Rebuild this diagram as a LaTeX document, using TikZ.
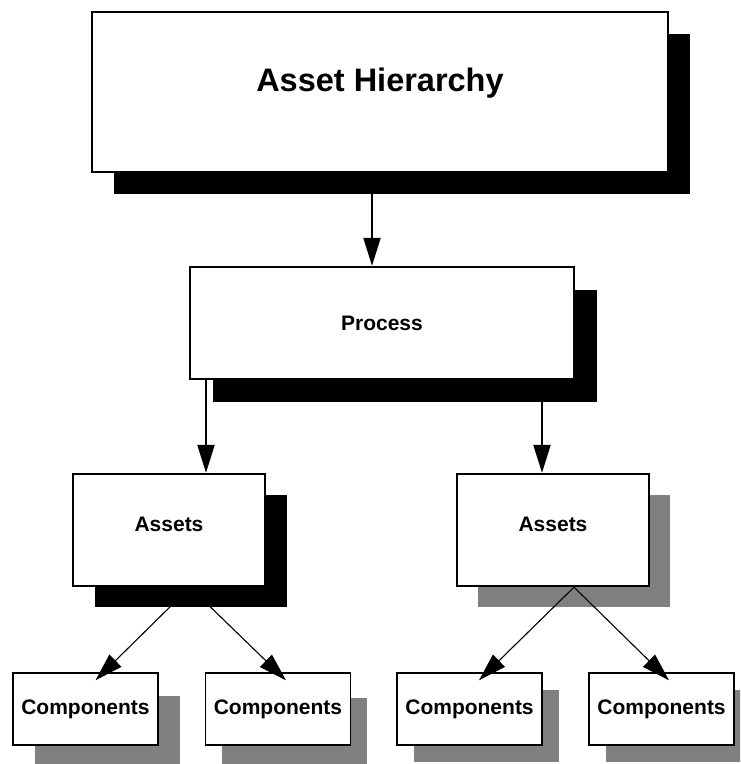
\documentclass[tikz,border=0pt]{standalone}
\usepackage{fontspec}
\setmainfont{Liberation Sans}
\usetikzlibrary{arrows.meta,shadows}
\definecolor{shadowgray}{HTML}{808080}

\begin{document}
\begin{tikzpicture}[
    x=1pt, y=-1pt, % pixel units, y runs down
    box/.style={draw, fill=white, line width=2.3pt, inner sep=0pt,
        font=\bfseries\fontsize{21}{25}\selectfont, text height=15pt, text depth=0pt},
    bigbox/.style={box, font=\bfseries\fontsize{32.5}{38}\selectfont, text height=23.3pt},
    smallbox/.style={box, line width=1.4pt, minimum width=145pt, minimum height=72pt},
    blackshadow/.style 2 args={drop shadow={shadow xshift=#1pt, shadow yshift=-#2pt, fill=black, opacity=1}},
    grayshadow/.style 2 args={drop shadow={shadow xshift=#1pt, shadow yshift=-#2pt, fill=shadowgray, opacity=1}},
    arr/.style={-{Triangle[length=28pt,width=17pt]}, line width=2pt},
    thinarr/.style={arr, line width=1.1pt}
]
\useasboundingbox (0,0) rectangle (740,764);
\clip (0,0) rectangle (740,764);

% boxes
\node[bigbox, blackshadow={22}{22}, minimum width=576pt, minimum height=160pt] (hier) at (380,92)
    {\raisebox{12.5pt}{Asset Hierarchy}};
\node[box, blackshadow={23}{23}, minimum width=384pt, minimum height=112pt] (proc) at (382,323) {Process};
\node[box, blackshadow={22}{21}, minimum width=192pt, minimum height=112pt] (assL) at (169,530)
    {\raisebox{6pt}{Assets}};
\node[box, grayshadow={21}{21}, minimum width=192pt, minimum height=112pt] (assR) at (553,530)
    {\raisebox{6pt}{Assets}};
\foreach \name/\x/\sx/\sy in {comp1/85.5/22/23, comp2/278/16/25, comp3/469.5/17/17, comp4/661.5/17/17}
    \node[smallbox, grayshadow={\sx}{\sy}] (\name) at (\x,709) {\raisebox{2pt}{Components}};

% connectors
\coordinate (hierout) at ([xshift=-8pt]hier.south);
\coordinate (procoutL) at ([xshift=-176pt]proc.south);
\coordinate (procoutR) at ([xshift=160pt]proc.south);
\draw[arr] (hierout) -- (hierout |- proc.north);
\draw[arr] (procoutL) -- (procoutL |- assL.north);
\draw[arr] (procoutR) -- (procoutR |- assR.north);
\foreach \src/\dst/\tx in {assL/comp1/10, assL/comp2/8, assR/comp3/9.5, assR/comp4/7.5}
    \draw[thinarr] ([xshift=21pt]\src.south) -- ([shift={(\tx,8)}]\dst.north);
\end{tikzpicture}
\end{document}
